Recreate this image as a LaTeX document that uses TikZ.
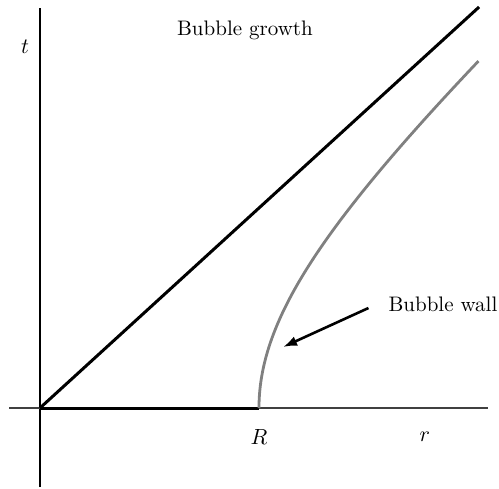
\documentclass[tikz,border=0pt]{standalone}
\usetikzlibrary{arrows.meta}
\begin{document}
\begin{tikzpicture}[x=54.75pt,y=50pt,
  axisline/.style={line width=0.6pt},
  thickline/.style={line width=1.5pt},
  wallline/.style={line width=1.4pt,draw=gray},
  lbl/.style={inner sep=0pt,font=\fontsize{10.5pt}{12pt}\selectfont}]
\useasboundingbox (-0.365,-0.8) rectangle (4.192,4.08);
% axes
\coordinate (ybot) at (0,-0.79);
\coordinate (ytop) at (0,4.0);
\coordinate (xl) at (-0.28,0);
\coordinate (xr) at (4.09,0);
\coordinate (O) at (0,0);
\coordinate (Rpt) at (2,0);
\coordinate (lc) at (4.01,4.01);
\draw[axisline] (ybot) -- (ytop);
\draw[axisline,draw=black!75] (xl) -- (xr);
% light cone and initial bubble
\draw[thickline] (O) -- (lc);
\draw[thickline] (O) -- (Rpt);
% bubble wall
\draw[wallline] plot[domain=0:3.47,samples=80,smooth] ({sqrt(4+\x*\x)},\x);
% labels
\node[lbl] (tl) at (-0.137,3.61) {$t$};
\node[lbl] (bg) at (1.872,3.78) {Bubble growth};
\node[lbl] (bw) at (3.68,1.04) {Bubble wall};
\node[lbl] (Rl) at (2.0,-0.29) {$R$};
\node[lbl] (rl) at (3.516,-0.29) {$r$};
% arrow
\coordinate (as) at (3.0,1.0);
\coordinate (ae) at (2.22,0.61);
\draw[line width=1.3pt,-{Latex[length=7pt,width=5pt]}] (as) -- (ae);
\end{tikzpicture}
\end{document}
